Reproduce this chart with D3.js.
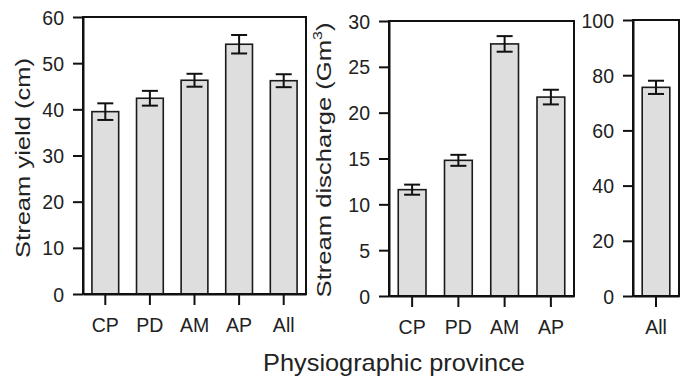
<!DOCTYPE html>
<html><head><meta charset="utf-8">
<script src="https://cdn.jsdelivr.net/npm/d3@7"></script>
<style>
body{margin:0;background:#fff;}
svg{display:block;font-family:"Liberation Sans",Arial,Helvetica,sans-serif;}
</style></head>
<body>
<svg id="chart" width="689" height="382"></svg>
<script>
// Panel 1: stream yield (cm)
const categories1 = ["CP","PD","AM","AP","All"];
const yieldValues = [39.5,42.4,46.3,54.1,46.2];
const yieldErrors = [1.8,1.6,1.4,2.0,1.4];
const yieldTicks = [0,10,20,30,40,50,60];
// Panel 2: stream discharge (Gm3)
const categories2 = ["CP","PD","AM","AP"];
const dischargeValues = [11.6,14.8,27.5,21.7];
const dischargeErrors = [0.55,0.6,0.85,0.8];
const dischargeTicks = [0,5,10,15,20,25,30];
// Panel 3: total
const categories3 = ["All"];
const totalValues = [75.6];
const totalErrors = [2.4];
const totalTicks = [0,20,40,60,80,100];

const svg = d3.select("#chart");

const panels = [
  {cats:categories1, vals:yieldValues, errs:yieldErrors, ticks:yieldTicks, max:60, x0:83, x1:306, y0:17, y1:294},
  {cats:categories2, vals:dischargeValues, errs:dischargeErrors, ticks:dischargeTicks, max:30, x0:389, x1:574, y0:21, y1:296},
  {cats:categories3, vals:totalValues, errs:totalErrors, ticks:totalTicks, max:100, x0:633, x1:679, y0:20, y1:296}
];

panels.forEach(p => {
  const x = d3.scaleBand().domain(p.cats).range([p.x0,p.x1]).paddingInner(0.4).paddingOuter(0.2);
  const y = d3.scaleLinear().domain([0,p.max]).range([p.y1,p.y0]);
  const g = svg.append("g");
  const data = p.cats.map((c,i)=>({c, v:p.vals[i], e:p.errs[i]}));

  g.selectAll("rect.bar").data(data).enter().append("rect")
    .attr("class","bar")
    .attr("x",d=>x(d.c)).attr("width",x.bandwidth())
    .attr("y",d=>y(d.v)).attr("height",d=>y(0)-y(d.v))
    .attr("fill","#dedede").attr("stroke","#1a1a1a").attr("stroke-width",1.6);

  const eb = g.selectAll("g.err").data(data).enter().append("g").attr("class","err")
    .attr("stroke","#111").attr("stroke-width",2).attr("fill","none");
  const cap = 8;
  eb.append("line").attr("x1",d=>x(d.c)+x.bandwidth()/2).attr("x2",d=>x(d.c)+x.bandwidth()/2)
    .attr("y1",d=>y(d.v+d.e)).attr("y2",d=>y(d.v-d.e));
  eb.append("line").attr("x1",d=>x(d.c)+x.bandwidth()/2-cap).attr("x2",d=>x(d.c)+x.bandwidth()/2+cap)
    .attr("y1",d=>y(d.v+d.e)).attr("y2",d=>y(d.v+d.e));
  eb.append("line").attr("x1",d=>x(d.c)+x.bandwidth()/2-cap).attr("x2",d=>x(d.c)+x.bandwidth()/2+cap)
    .attr("y1",d=>y(d.v-d.e)).attr("y2",d=>y(d.v-d.e));

  // frame
  g.append("rect").attr("x",p.x0).attr("y",p.y0).attr("width",p.x1-p.x0).attr("height",p.y1-p.y0)
    .attr("fill","none").attr("stroke","#111").attr("stroke-width",2);

  const ya = g.append("g").attr("transform",`translate(${p.x0},0)`)
    .call(d3.axisLeft(y).tickValues(p.ticks).tickSize(10).tickSizeOuter(0).tickPadding(9));
  const xa = g.append("g").attr("transform",`translate(0,${p.y1})`)
    .call(d3.axisBottom(x).tickSize(11).tickSizeOuter(0).tickPadding(13));
  [ya,xa].forEach(a=>{
    a.select(".domain").attr("stroke","#111").attr("stroke-width",2);
    a.selectAll(".tick line").attr("stroke","#111").attr("stroke-width",2);
    a.selectAll(".tick text").attr("font-size",19.5).attr("fill","#222")
      .attr("font-family","'Liberation Sans',Arial,sans-serif");
  });
  ya.selectAll(".tick text").attr("dy","0.36em");
});

// axis titles scaled to match reference lengths
function title(parts, cx, cy, rot, size, targetLen){
  const outer = svg.append("g").attr("transform",`translate(${cx},${cy}) rotate(${rot})`);
  const inner = outer.append("g");
  const t = inner.append("text").attr("font-size",size).attr("fill","#222").attr("text-anchor","middle");
  parts.forEach(pt=>{
    const ts = t.append("tspan").text(pt.t);
    if(pt.sup) ts.attr("font-size",size*0.62).attr("dy",-size*0.45);
    if(pt.down) ts.attr("dy",size*0.45);
  });
  const w = t.node().getComputedTextLength();
  inner.attr("transform",`scale(${targetLen/w},1)`);
}
title([{t:"Stream yield (cm)"}], 30, 158, -90, 21, 200);
title([{t:"Stream discharge (Gm"},{t:"3",sup:true},{t:")",down:true}], 331, 160, -90, 21, 275);
title([{t:"Physiographic province"}], 394, 371, 0, 23, 262);
</script>
</body></html>
